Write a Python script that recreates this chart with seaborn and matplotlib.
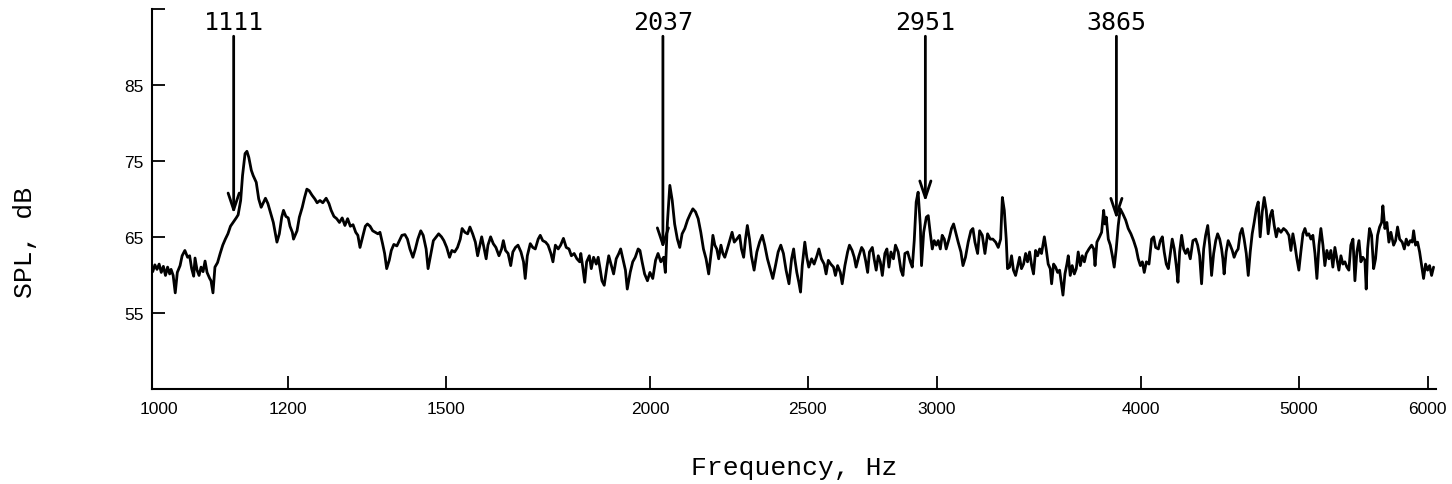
import matplotlib
matplotlib.use("Agg")
import matplotlib.pyplot as plt
from matplotlib.ticker import FixedLocator, FixedFormatter, NullLocator
from matplotlib.patches import ArrowStyle
import seaborn as sns
import pandas as pd

# Measured sound pressure level spectrum (frequency in Hz, level in dB)
freq_hz = [
    # 1000 - 1340 Hz
    991, 994, 997, 1000, 1003, 1006, 1009, 1012, 1015, 1017,
    1020, 1023, 1026, 1030, 1033, 1037, 1041, 1044, 1047, 1050,
    1052, 1055, 1058, 1061, 1064, 1067, 1070, 1074, 1076, 1079,
    1082, 1086, 1090, 1094, 1098, 1102, 1106, 1111, 1115, 1118,
    1122, 1125, 1129, 1132, 1135, 1139, 1142, 1147, 1151, 1155,
    1159, 1162, 1166, 1171, 1175, 1178, 1181, 1185, 1189, 1192,
    1196, 1200, 1203, 1207, 1209, 1215, 1219, 1224, 1228, 1232,
    1236, 1241, 1246, 1250, 1255, 1260, 1266, 1271, 1275, 1280,
    1285, 1290, 1295, 1300, 1305, 1310, 1315, 1320, 1324, 1328,
    1333, 1338,
    # 1340 - 1810 Hz
    1342, 1347, 1352, 1357, 1362, 1366, 1371, 1375, 1379,
    1384, 1388, 1393, 1399, 1404, 1409, 1415, 1420, 1425, 1431,
    1436, 1441, 1447, 1452, 1458, 1462, 1468, 1473, 1479, 1484,
    1490, 1495, 1501, 1507, 1512, 1518, 1524, 1530, 1534, 1540,
    1546, 1551, 1557, 1563, 1568, 1573, 1577, 1582, 1587, 1591,
    1597, 1603, 1609, 1616, 1622, 1626, 1631, 1637, 1643, 1648,
    1654, 1660, 1667, 1673, 1677, 1682, 1689, 1695, 1701, 1708,
    1713, 1719, 1726, 1732, 1739, 1744, 1750, 1757, 1763, 1770,
    1777, 1784, 1790, 1797, 1804, 1811,
    # 1810 - 2450 Hz
    1814, 1819, 1824, 1829, 1836, 1841, 1847, 1854, 1859,
    1864, 1869, 1875, 1882, 1887, 1894, 1900, 1907, 1914, 1919,
    1927, 1932, 1937, 1945, 1952, 1959, 1967, 1972, 1978, 1985,
    1993, 2000, 2008, 2016, 2023, 2031, 2039, 2044, 2050, 2057,
    2064, 2071, 2079, 2086, 2093, 2101, 2109, 2117, 2125, 2133,
    2141, 2149, 2157, 2165, 2173, 2182, 2186, 2192, 2198, 2204,
    2211, 2217, 2223, 2231, 2240, 2246, 2253, 2261, 2270, 2276,
    2283, 2289, 2295, 2302, 2308, 2317, 2326, 2335, 2344, 2352,
    2361, 2370, 2379, 2388, 2397, 2406, 2415, 2424, 2434, 2443, 2450,
    # 2450 - 3315 Hz
    2454, 2461, 2468, 2474, 2480, 2489, 2496, 2503, 2513,
    2522, 2532, 2539, 2548, 2558, 2565, 2573, 2582, 2592, 2599,
    2607, 2617, 2624, 2634, 2644, 2651, 2661, 2669, 2676, 2687,
    2697, 2704, 2712, 2720, 2727, 2738, 2745, 2753, 2761, 2769,
    2777, 2787, 2795, 2803, 2811, 2821, 2829, 2840, 2851, 2859,
    2867, 2878, 2889, 2897, 2905, 2913, 2921, 2930, 2935, 2944,
    2955, 2963, 2971, 2980, 2988, 2997, 3005, 3014, 3022, 3031,
    3039, 3051, 3062, 3071, 3080, 3091, 3103, 3112, 3123, 3135,
    3147, 3156, 3165, 3177, 3186, 3198, 3210, 3222, 3234, 3246,
    3259, 3271, 3282, 3290, 3299, 3308, 3314,
    # 3315 - 4485 Hz
    3324, 3333, 3342, 3352, 3361, 3371, 3380, 3390, 3400,
    3409, 3419, 3429, 3438, 3448, 3458, 3468, 3477, 3491, 3500,
    3510, 3520, 3527, 3537, 3547, 3557, 3567, 3577, 3584, 3594,
    3604, 3611, 3621, 3631, 3642, 3652, 3662, 3673, 3683, 3694,
    3704, 3718, 3732, 3743, 3750, 3760, 3774, 3785, 3796, 3803,
    3810, 3821, 3832, 3843, 3853, 3864, 3875, 3886, 3901, 3916,
    3930, 3945, 3960, 3975, 3986, 3998, 4009, 4020, 4032, 4047,
    4062, 4074, 4085, 4101, 4112, 4124, 4135, 4147, 4159, 4171,
    4182, 4194, 4206, 4216, 4226, 4238, 4250, 4262, 4274, 4290,
    4306, 4323, 4335, 4347, 4359, 4372, 4384, 4397, 4409, 4421,
    4434, 4447, 4459, 4472, 4484,
    # 4485 - 6050 Hz
    4492, 4500, 4513, 4526, 4539, 4552, 4564, 4577, 4590,
    4603, 4616, 4629, 4643, 4656, 4669, 4682, 4695, 4709, 4722,
    4735, 4749, 4762, 4776, 4789, 4803, 4816, 4830, 4844, 4857,
    4876, 4894, 4912, 4931, 4945, 4959, 4973, 4987, 5001, 5015,
    5030, 5044, 5058, 5072, 5087, 5101, 5116, 5130, 5145, 5159,
    5174, 5188, 5203, 5218, 5232, 5247, 5262, 5277, 5292, 5307,
    5322, 5337, 5352, 5367, 5382, 5398, 5413, 5428, 5444, 5459,
    5474, 5490, 5500, 5511, 5526, 5542, 5558, 5573, 5589, 5605,
    5621, 5631, 5647, 5663, 5679, 5695, 5717, 5733, 5749, 5766,
    5787, 5804, 5820, 5837, 5853, 5870, 5881, 5897, 5914, 5931,
    5948, 5964, 5981, 5998, 6015, 6032, 6049,
]

spl_db = [
    # 1000 - 1340 Hz
    60.4, 61.3, 60.7, 61.4, 60.3, 61.1, 59.9, 61.0, 60.1, 60.7,
    59.9, 57.6, 60.3, 61.2, 62.5, 63.2, 62.3, 62.5, 60.8, 59.8,
    62.2, 60.6, 59.9, 61.0, 60.4, 61.8, 60.3, 59.5, 59.2, 57.6,
    61.0, 61.6, 62.8, 63.9, 64.7, 65.4, 66.4, 67.0, 67.5, 67.9,
    69.8, 73.1, 76.0, 76.3, 75.5, 73.8, 73.1, 72.2, 70.0, 68.9,
    69.6, 70.1, 69.4, 68.0, 66.9, 65.6, 64.3, 65.4, 67.6, 68.5,
    67.7, 67.5, 66.4, 65.6, 64.7, 65.8, 67.6, 68.9, 70.2, 71.3,
    71.1, 70.5, 70.0, 69.5, 69.8, 69.5, 70.1, 69.4, 68.5, 67.7,
    67.4, 66.9, 67.5, 66.5, 67.4, 66.4, 66.6, 65.6, 65.2, 63.6,
    65.0, 66.4,
    # 1340 - 1810 Hz
    66.7, 66.4, 65.8, 65.6, 65.4, 65.6, 64.1, 62.8, 60.8,
    61.9, 63.2, 64.0, 63.8, 64.5, 65.2, 65.3, 64.7, 63.4, 62.3,
    63.4, 64.7, 65.8, 65.2, 63.4, 60.8, 62.8, 64.5, 65.0, 65.4,
    65.0, 64.5, 63.6, 62.3, 63.2, 63.0, 63.6, 64.7, 66.1, 65.6,
    65.4, 66.3, 65.4, 64.3, 62.5, 63.9, 65.0, 63.6, 62.1, 63.9,
    65.0, 64.1, 63.6, 62.5, 63.4, 64.5, 63.2, 62.8, 61.2, 63.0,
    63.6, 63.9, 63.0, 61.7, 59.5, 62.5, 64.1, 63.6, 63.4, 64.7,
    65.2, 64.5, 64.3, 63.9, 62.8, 61.7, 63.9, 63.4, 63.9, 64.8,
    63.6, 63.4, 62.5, 62.8, 62.1, 61.7,
    # 1810 - 2450 Hz
    62.8, 61.0, 59.0, 61.7, 62.5, 60.8, 62.3, 61.4, 62.3,
    60.8, 59.2, 58.6, 61.0, 62.5, 61.2, 60.1, 62.1, 62.8, 63.4,
    61.7, 60.6, 58.1, 60.3, 61.7, 62.3, 63.4, 63.2, 61.7, 60.1,
    59.2, 60.3, 59.5, 61.9, 62.8, 61.7, 62.3, 60.3, 66.9, 71.8,
    69.8, 66.7, 64.7, 63.6, 65.4, 66.1, 67.2, 68.0, 68.7, 68.3,
    67.4, 65.6, 63.4, 62.1, 60.1, 63.4, 65.2, 63.9, 63.4, 62.1,
    63.9, 62.8, 62.3, 63.4, 64.7, 65.6, 64.3, 64.7, 65.2, 63.4,
    62.3, 64.7, 66.5, 64.7, 62.5, 60.6, 63.0, 64.3, 65.2, 63.9,
    62.1, 60.8, 59.5, 61.2, 63.0, 63.9, 62.8, 60.6, 58.8, 62.1, 63.4,
    # 2450 - 3315 Hz
    62.1, 60.3, 59.0, 57.7, 61.2, 64.3, 62.3, 61.0, 62.1,
    61.4, 62.5, 63.4, 62.1, 61.4, 60.1, 61.9, 61.4, 61.0, 59.9,
    61.2, 60.3, 58.8, 61.2, 63.0, 63.9, 63.2, 62.3, 61.0, 62.5,
    63.6, 63.2, 61.9, 60.3, 63.0, 63.6, 62.1, 60.6, 62.5, 61.7,
    59.9, 62.8, 63.4, 61.0, 63.0, 62.1, 63.9, 63.0, 60.6, 59.9,
    62.8, 63.0, 61.7, 61.0, 64.5, 69.6, 70.9, 66.5, 61.2, 65.6,
    67.6, 67.8, 65.6, 63.4, 64.5, 63.9, 64.5, 63.4, 65.2, 64.7,
    63.4, 64.7, 66.1, 66.7, 65.6, 64.3, 63.0, 61.2, 62.3, 64.3,
    65.8, 66.1, 64.3, 62.8, 65.8, 65.2, 62.8, 65.4, 64.7, 64.7,
    64.3, 63.6, 64.7, 70.2, 68.5, 64.7, 60.8,
    # 3315 - 4485 Hz
    61.0, 62.5, 60.6, 59.9, 61.0, 62.3, 60.8, 61.4, 62.8,
    61.7, 63.0, 61.2, 60.1, 63.2, 62.5, 63.4, 62.8, 65.0, 63.4,
    61.4, 60.8, 58.8, 61.4, 61.0, 60.3, 60.6, 58.6, 57.3, 60.1,
    61.4, 62.5, 59.9, 61.2, 60.1, 60.8, 63.0, 61.2, 62.5, 61.7,
    62.8, 63.4, 63.9, 63.4, 61.2, 64.3, 65.0, 65.6, 68.5, 66.7,
    67.6, 64.7, 63.9, 62.5, 61.0, 63.4, 66.5, 68.7, 68.0, 67.2,
    66.1, 65.4, 64.5, 63.4, 62.1, 61.2, 61.7, 60.3, 61.7, 61.4,
    64.7, 65.0, 63.6, 63.4, 64.5, 65.0, 63.0, 61.4, 60.8, 62.8,
    64.7, 63.4, 61.2, 59.0, 63.0, 65.2, 63.4, 62.8, 63.4, 62.1,
    64.5, 64.7, 63.9, 62.5, 58.8, 63.4, 65.2, 66.5, 63.9, 59.9,
    62.8, 64.5, 65.4, 64.7, 63.4,
    # 4485 - 6050 Hz
    62.1, 60.1, 63.0, 64.5, 63.9, 63.2, 62.3, 63.0, 63.4,
    65.4, 66.1, 64.7, 62.8, 59.9, 63.0, 65.4, 66.9, 68.7, 69.6,
    65.0, 68.3, 70.2, 68.5, 65.4, 67.8, 68.5, 66.5, 65.0, 66.1,
    65.6, 66.1, 65.8, 65.2, 63.2, 65.4, 63.9, 62.1, 60.6, 63.0,
    65.4, 66.1, 65.2, 65.4, 64.7, 65.2, 62.8, 59.5, 63.9, 66.1,
    63.9, 61.2, 63.2, 62.1, 63.2, 61.0, 63.6, 62.1, 60.6, 62.5,
    61.4, 61.7, 61.0, 60.6, 63.9, 64.7, 59.2, 63.0, 64.5, 61.7,
    62.3, 61.9, 58.1, 63.4, 66.1, 65.2, 60.8, 62.1, 65.2, 66.3,
    66.9, 69.1, 66.1, 66.9, 64.3, 65.6, 63.9, 64.5, 66.3, 64.7,
    64.3, 63.4, 64.7, 63.9, 64.5, 64.3, 65.8, 63.9, 64.3, 63.0,
    61.2, 59.5, 61.4, 60.6, 61.2, 59.9, 61.0,
]

# Marked resonance frequencies and the level the arrow points to
peak_freqs = [1111, 2037, 2951, 3865]
peak_labels = ["1111", "2037", "2951", "3865"]
peak_tip_db = [68.0, 63.4, 69.6, 67.3]

x_ticks = [1000, 1200, 1500, 2000, 2500, 3000, 4000, 5000, 6000]
x_tick_labels = ["1000", "1200", "1500", "2000", "2500", "3000", "4000", "5000", "6000"]
y_ticks = [55, 65, 75, 85]
y_tick_labels = ["55", "65", "75", "85"]

assert len(freq_hz) == len(spl_db)

sns.set_theme(style="ticks")
plt.rcParams["font.family"] = ["DejaVu Sans"]

fig = plt.figure(figsize=(14.52, 4.85), dpi=100)
ax = fig.add_axes([0.1047, 0.1959, 0.8843, 0.7835])

df = pd.DataFrame({"freq": freq_hz, "spl": spl_db})
sns.lineplot(data=df, x="freq", y="spl", ax=ax, color="black",
             linewidth=2.0, estimator=None, sort=False)

y_top = 95.1
ax.set_xscale("log")
ax.set_xlim(990, 6070)
ax.set_ylim(44.9, y_top)

ax.xaxis.set_major_locator(FixedLocator(x_ticks))
ax.xaxis.set_major_formatter(FixedFormatter(x_tick_labels))
ax.xaxis.set_minor_locator(NullLocator())
ax.yaxis.set_major_locator(FixedLocator(y_ticks + [y_top]))
ax.yaxis.set_major_formatter(FixedFormatter(y_tick_labels + [""]))
ax.yaxis.set_minor_locator(NullLocator())

ax.tick_params(direction="in", length=9.5, width=1.3, color="black",
               labelsize=12.5, labelcolor="black", bottom=True, left=True)
ax.tick_params(axis="x", pad=9)
ax.tick_params(axis="y", pad=6)
for lab in ax.get_xticklabels() + ax.get_yticklabels():
    lab.set_fontfamily(["Liberation Sans", "DejaVu Sans"])
ax.xaxis.get_major_ticks()[0].tick1line.set_visible(False)

sns.despine(ax=ax)
for side in ("left", "bottom"):
    ax.spines[side].set_color("black")
    ax.spines[side].set_linewidth(1.5)

mono = ["Liberation Mono", "DejaVu Sans Mono"]
ax.set_xlabel("Frequency, Hz", fontsize=19, color="black", family=mono)
ax.xaxis.set_label_coords(0.5, -78 / 380)
ax.xaxis.label.set_va("center")
ax.set_ylabel("SPL, dB", fontsize=19, color="black", family=mono)
ax.yaxis.set_label_coords(-127 / 1284, 0.387)
ax.yaxis.label.set_va("center")
ax.yaxis.label.set_ha("center")

head = ArrowStyle("->", head_length=0.6, head_width=0.2)
for f, lab, tip in zip(peak_freqs, peak_labels, peak_tip_db):
    ax.text(f, 93.4, lab, ha="center", va="center", fontsize=18,
            color="black", family=["DejaVu Sans Mono"])
    ax.annotate("", xy=(f, tip), xytext=(f, 91.5),
                arrowprops=dict(arrowstyle=head, mutation_scale=20, lw=2,
                                color="black", shrinkA=0, shrinkB=0))

fig.savefig("out.png", dpi=100, facecolor="white")
